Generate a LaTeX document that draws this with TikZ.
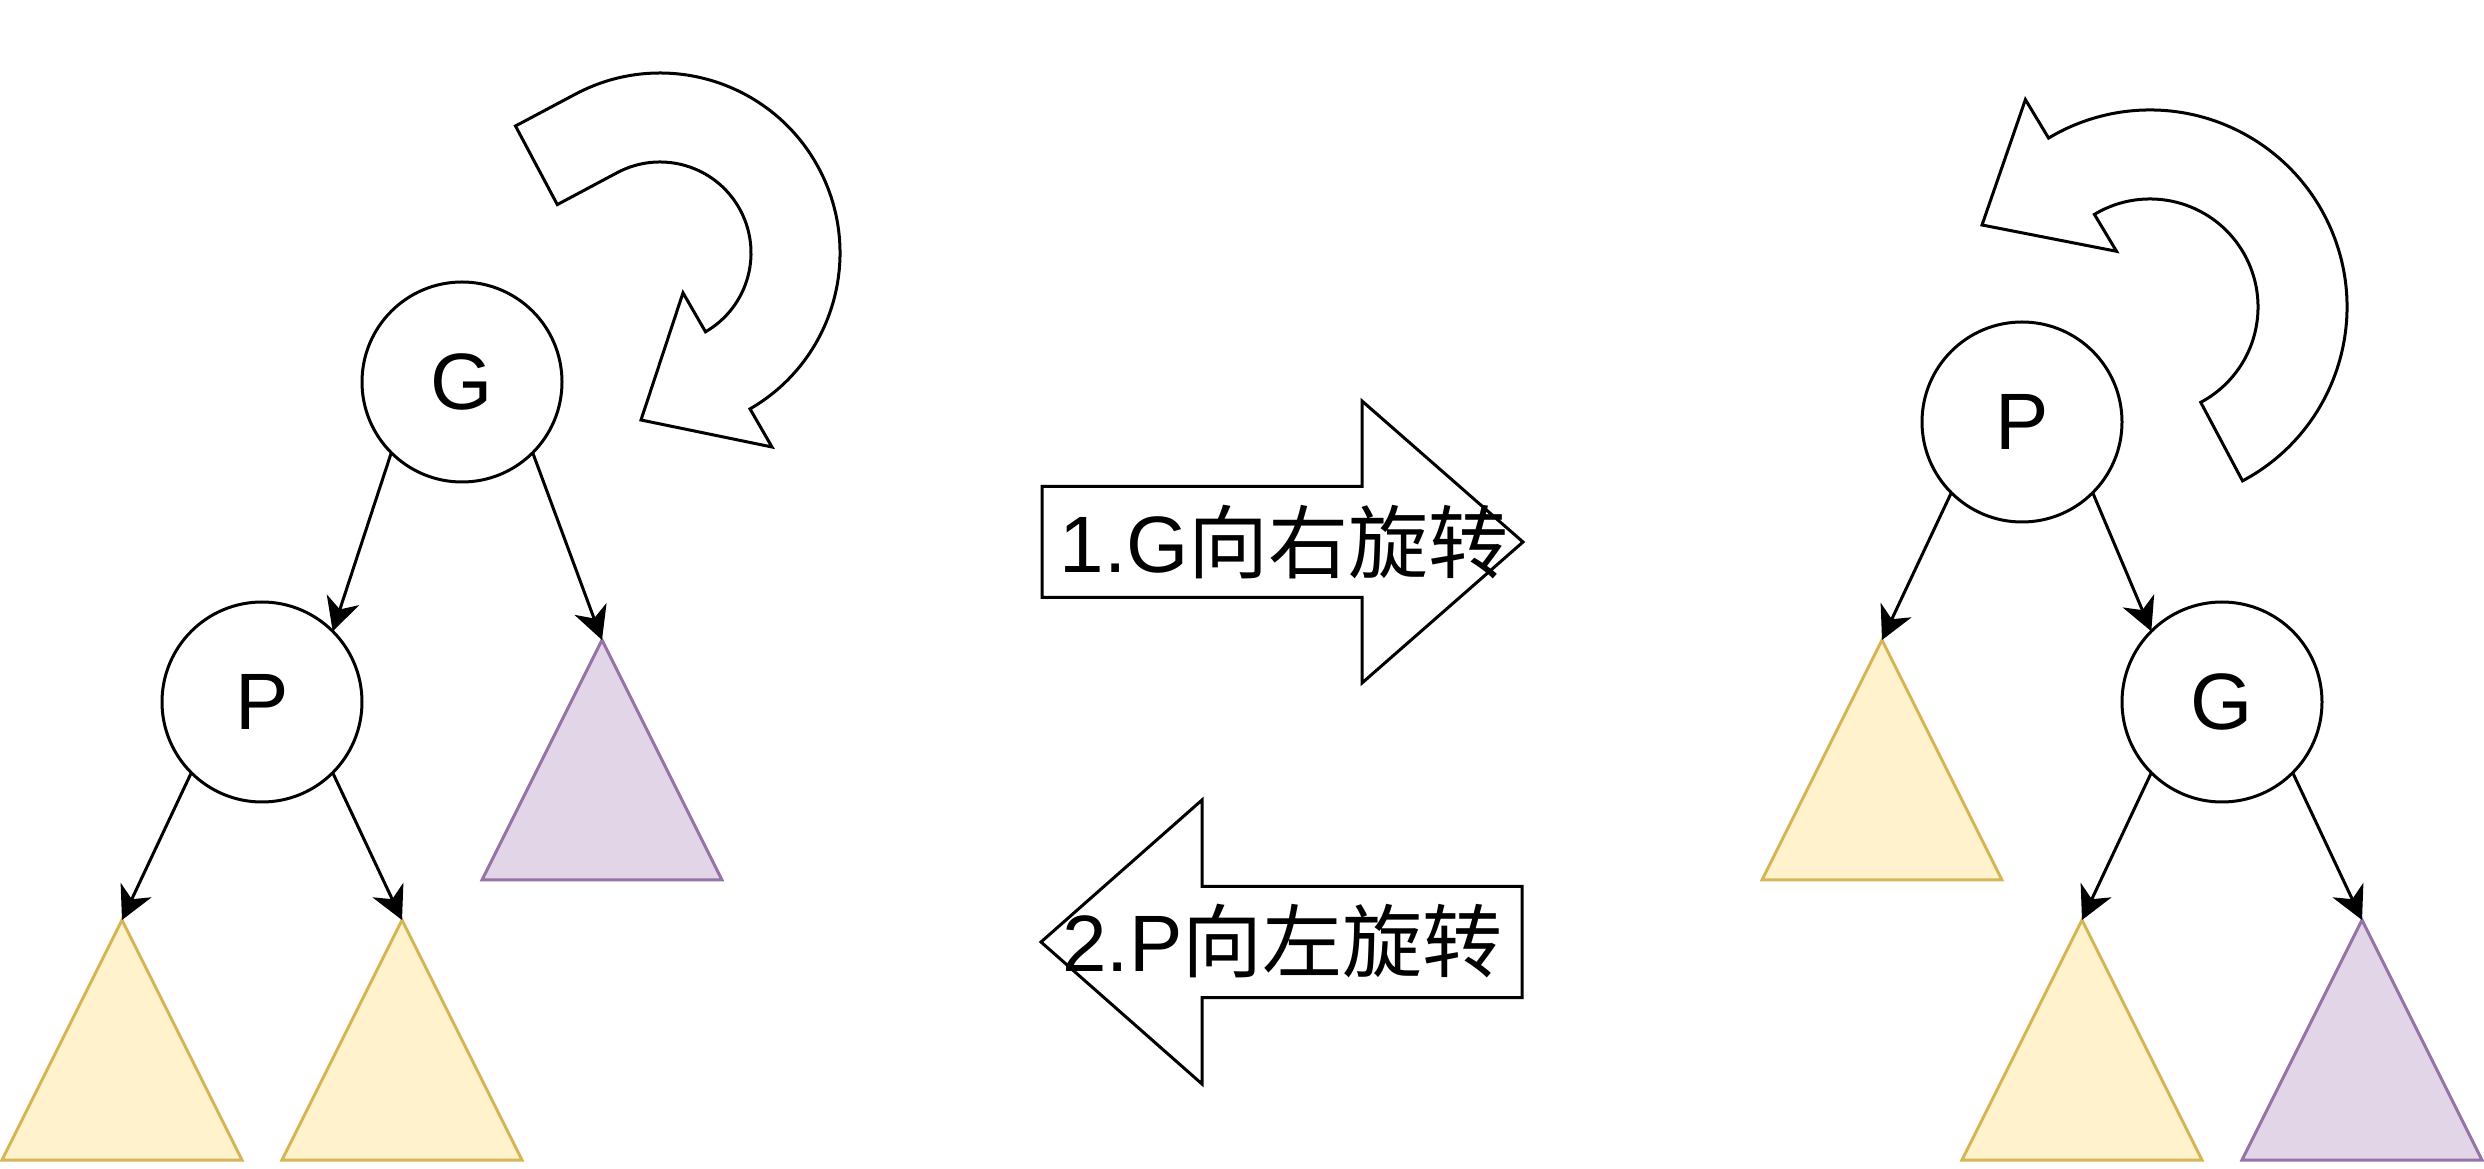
\documentclass[tikz,border=0pt]{standalone}
\usepackage{fontspec}
\setmainfont{Liberation Sans}
\newfontfamily\cjkfont{Noto Sans CJK SC}
\usetikzlibrary{arrows.meta}
\definecolor{yfill}{HTML}{FFF2CC}
\definecolor{ystroke}{HTML}{D6B656}
\definecolor{pfill}{HTML}{E1D5E7}
\definecolor{pstroke}{HTML}{9673A6}
\begin{document}
\begin{tikzpicture}[x=1pt,y=1pt,
  tnode/.style={circle, draw, line width=3pt, minimum size=200pt, inner sep=0pt, outer sep=0pt, fill=white, font=\fontsize{80}{96}\selectfont},
  edge/.style={line width=3pt, -{Stealth[length=33pt,width=34pt,inset=10pt]}},
  ytri/.style={fill=yfill, draw=ystroke, line width=3pt},
  ptri/.style={fill=pfill, draw=pstroke, line width=3pt},
  bigshape/.style={draw, fill=white, line width=3pt},
  lbl/.style={font=\fontsize{80}{96}\selectfont, inner sep=0pt, anchor=base}]
\useasboundingbox (0,0) rectangle (2484,1168);

% ---------- left tree ----------
\node[tnode] (lG) at (462,786) {G};
\node[tnode] (lP) at (262,466) {P};
\draw[ytri] (2,8) -- (122,248) -- (242,8) -- cycle;
\coordinate (ly1) at (122,248);
\draw[ytri] (282,8) -- (402,248) -- (522,8) -- cycle;
\coordinate (ly2) at (402,248);
\draw[ptri] (482,288) -- (602,528) -- (722,288) -- cycle;
\coordinate (lp1) at (602,528);
\draw[edge] (lG.-135) -- (lP.45);
\draw[edge] (lG.-45) -- (lp1);
\draw[edge] (lP.-135) -- (ly1);
\draw[edge] (lP.-45) -- (ly2);

% left curved arrow (clockwise)
\draw[bigshape] (515.5,1042) -- (575.5,1073.9)
  arc[start angle=118, end angle=-60, radius=180]
  -- (772,721) -- (641,748) -- (683,875.2) -- (705.5,836.2)
  arc[start angle=-60, end angle=118, radius=91]
  -- (557.3,963.4) -- cycle;

% ---------- right tree ----------
\node[tnode] (rP) at (2022,746) {P};
\node[tnode] (rG) at (2222,466) {G};
\draw[ytri] (1762,288) -- (1882,528) -- (2002,288) -- cycle;
\coordinate (ry1) at (1882,528);
\draw[ytri] (1962,8) -- (2082,248) -- (2202,8) -- cycle;
\coordinate (ry2) at (2082,248);
\draw[ptri] (2242,8) -- (2362,248) -- (2482,8) -- cycle;
\coordinate (rp1) at (2362,248);
\draw[edge] (rP.-135) -- (ry1);
\draw[edge] (rP.-45) -- (rG.135);
\draw[edge] (rG.-135) -- (ry2);
\draw[edge] (rG.-45) -- (rp1);

% right curved arrow (counter-clockwise)
\draw[bigshape] (2242.5,687.1)
  arc[start angle=-62, end angle=121, radius=197]
  -- (2025.4,1068.4) -- (1982,943) -- (2116.5,916.7) -- (2094.4,953.6)
  arc[start angle=121, end angle=-62, radius=108]
  -- cycle;

% ---------- middle block arrows ----------
\draw[bigshape] (1042,570.5) -- (1042,681.5) -- (1362,681.5) -- (1362,767)
  -- (1523,626) -- (1362,485) -- (1362,570.5) -- cycle;
\node[lbl] (lab1) at (1284,595) {1.G{\cjkfont 向右旋转}};

\draw[bigshape] (1522,170.5) -- (1522,281.5) -- (1202,281.5) -- (1202,368)
  -- (1041,226) -- (1202,84) -- (1202,170.5) -- cycle;
\node[lbl] (lab2) at (1282.5,196.3) {2.P{\cjkfont 向左旋转}};
\end{tikzpicture}
\end{document}
